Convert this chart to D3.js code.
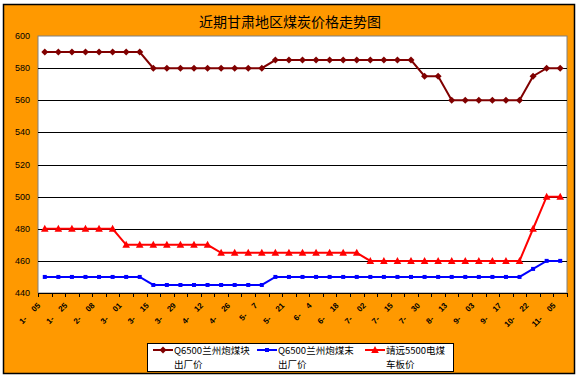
<!DOCTYPE html>
<html>
<head>
<meta charset="utf-8">
<script src="https://cdn.jsdelivr.net/npm/d3@7"></script>
<style>
  body { margin: 0; background: #fff; }
  svg { display: block; font-family: Arial, "Liberation Sans", sans-serif; }
</style>
</head>
<body>
<svg id="chart" width="579" height="378"></svg>
<script>
// 近期甘肃地区煤炭价格走势图

var title = "近期甘肃地区煤炭价格走势图";

// every other point carries a label
var dateLabels = ["1-|05", "1-|25", "2-|08", "3-|01", "3-|15", "3-|29", "4-|12", "4-|26",
  "5-|7", "5-|21", "6-|4", "6-|18", "7-|02", "7-|15", "7-|30", "8-|13", "9-|03",
  "9-|17", "10-|22", "11-|05"];

var kuaiPrice = [590, 590, 590, 590, 590, 590, 590, 590,
  580, 580, 580, 580, 580, 580, 580, 580, 580,
  585, 585, 585, 585, 585, 585, 585, 585, 585, 585, 585,
  575, 575, 560, 560, 560, 560, 560, 560, 575, 580, 580];

var moPrice = [450, 450, 450, 450, 450, 450, 450, 450,
  445, 445, 445, 445, 445, 445, 445, 445, 445,
  450, 450, 450, 450, 450, 450, 450, 450, 450, 450, 450, 450, 450,
  450, 450, 450, 450, 450, 450, 455, 460, 460];

var dianPrice = [480, 480, 480, 480, 480, 480,
  470, 470, 470, 470, 470, 470, 470,
  465, 465, 465, 465, 465, 465, 465, 465, 465, 465, 465,
  460, 460, 460, 460, 460, 460, 460, 460, 460, 460, 460, 460,
  480, 500, 500];

var seriesNames = [["Q6500兰州炮煤块", "出厂价"], ["Q6500兰州炮煤末", "出厂价"], ["靖远5500电煤", "车板价"]];
var yTicks = [440, 460, 480, 500, 520, 540, 560, 580, 600];

var series = [
  {values: kuaiPrice, color: "#800000", marker: "diamond", name: seriesNames[0]},
  {values: moPrice, color: "#0000FF", marker: "square", name: seriesNames[1]},
  {values: dianPrice, color: "#FF0000", marker: "triangle", name: seriesNames[2]}
];

var svg = d3.select("#chart");
var plot = {left: 38, top: 36, right: 567, bottom: 293};

///////////////////////////////////////////////////////////////////////////////
// Background and title

svg.append("rect").attr("x", 3.5).attr("y", 4.5).attr("width", 571).attr("height", 369)
  .attr("fill", "#FF9900").attr("stroke", "#000").attr("stroke-width", 1.5);

svg.append("text").attr("x", 290).attr("y", 27).attr("text-anchor", "middle")
  .style("font-family", "'Noto Sans CJK SC', sans-serif").style("font-size", "14px")
  .text(title);

///////////////////////////////////////////////////////////////////////////////
// Scales

var idx = d3.range(kuaiPrice.length);
var x = d3.scaleBand().domain(idx).range([plot.left, plot.right]);
var y = d3.scaleLinear().domain([440, 600]).range([plot.bottom, plot.top]);
var cx = function (i) { return x(i) + x.bandwidth() / 2; };

svg.append("rect").attr("x", plot.left).attr("y", plot.top)
  .attr("width", plot.right - plot.left).attr("height", plot.bottom - plot.top)
  .attr("fill", "#fff").attr("stroke", "#808080").attr("stroke-width", 1);

svg.append("g").selectAll("line").data(yTicks.slice(1, -1)).enter().append("line")
  .attr("x1", plot.left).attr("x2", plot.right)
  .attr("y1", function (d) { return Math.round(y(d)) + 0.5; })
  .attr("y2", function (d) { return Math.round(y(d)) + 0.5; })
  .attr("stroke", "#000").attr("stroke-width", 1);

svg.append("g").selectAll("text").data(yTicks).enter().append("text")
  .attr("x", 30).attr("y", function (d) { return y(d) + 3; })
  .attr("text-anchor", "end").style("font-size", "9px")
  .text(function (d) { return d; });

// category axis with ticks between categories
var xAxis = svg.append("g");
xAxis.append("line").attr("x1", plot.left).attr("x2", plot.right)
  .attr("y1", plot.bottom + 0.5).attr("y2", plot.bottom + 0.5).attr("stroke", "#000");
xAxis.selectAll("line.tick").data(d3.range(kuaiPrice.length + 1)).enter().append("line")
  .attr("class", "tick")
  .attr("x1", function (i) { return Math.round(plot.left + i * x.step()) + 0.5; })
  .attr("x2", function (i) { return Math.round(plot.left + i * x.step()) + 0.5; })
  .attr("y1", plot.bottom).attr("y2", plot.bottom + 4).attr("stroke", "#000");

var labels = xAxis.selectAll("text.lab").data(dateLabels).enter().append("text")
  .attr("class", "lab")
  .attr("transform", function (d, k) {
    return "translate(" + (cx(k * 2) - 4) + "," + (plot.bottom + 13) + ") rotate(-45)";
  })
  .attr("text-anchor", "end")
  .style("font-size", "8px").style("font-weight", "bold");
labels.append("tspan").text(function (d) { return d.split("|")[0]; });
labels.append("tspan").attr("dx", 10).text(function (d) { return d.split("|")[1]; });

///////////////////////////////////////////////////////////////////////////////
// Lines and markers

var markerPath = function (kind) {
  if (kind === "diamond") return "M0,-3.5L3.5,0L0,3.5L-3.5,0Z";
  if (kind === "square") return "M-2,-2L2,-2L2,2L-2,2Z";
  return "M0,-4L3.8,3L-3.8,3Z";
};

var line = d3.line().x(function (d, i) { return cx(i); }).y(function (d) { return y(d); });

series.forEach(function (s) {
  svg.append("path").datum(s.values).attr("d", line)
    .attr("fill", "none").attr("stroke", s.color).attr("stroke-width", 2);
  svg.append("g").selectAll("path").data(s.values).enter().append("path")
    .attr("d", markerPath(s.marker))
    .attr("transform", function (d, i) { return "translate(" + cx(i) + "," + y(d) + ")"; })
    .attr("fill", s.color);
});

///////////////////////////////////////////////////////////////////////////////
// Legend

var legend = svg.append("g");
legend.append("rect").attr("x", 147.5).attr("y", 343.5).attr("width", 306).attr("height", 28)
  .attr("fill", "#fff").attr("stroke", "#000");

var legendX = [153, 257, 365];
series.forEach(function (s, k) {
  var g = legend.append("g").attr("transform", "translate(" + legendX[k] + ",350)");
  g.append("line").attr("x1", 0).attr("x2", 20).attr("y1", 0).attr("y2", 0)
    .attr("stroke", s.color).attr("stroke-width", 2);
  g.append("path").attr("d", markerPath(s.marker)).attr("transform", "translate(10,0)")
    .attr("fill", s.color);
  g.selectAll("text").data(s.name).enter().append("text")
    .attr("x", 21).attr("y", function (d, j) { return 4 + j * 14; })
    .style("font-family", "'Noto Sans CJK SC', sans-serif").style("font-size", "9.5px")
    .text(function (d) { return d; });
});
</script>
</body>
</html>
